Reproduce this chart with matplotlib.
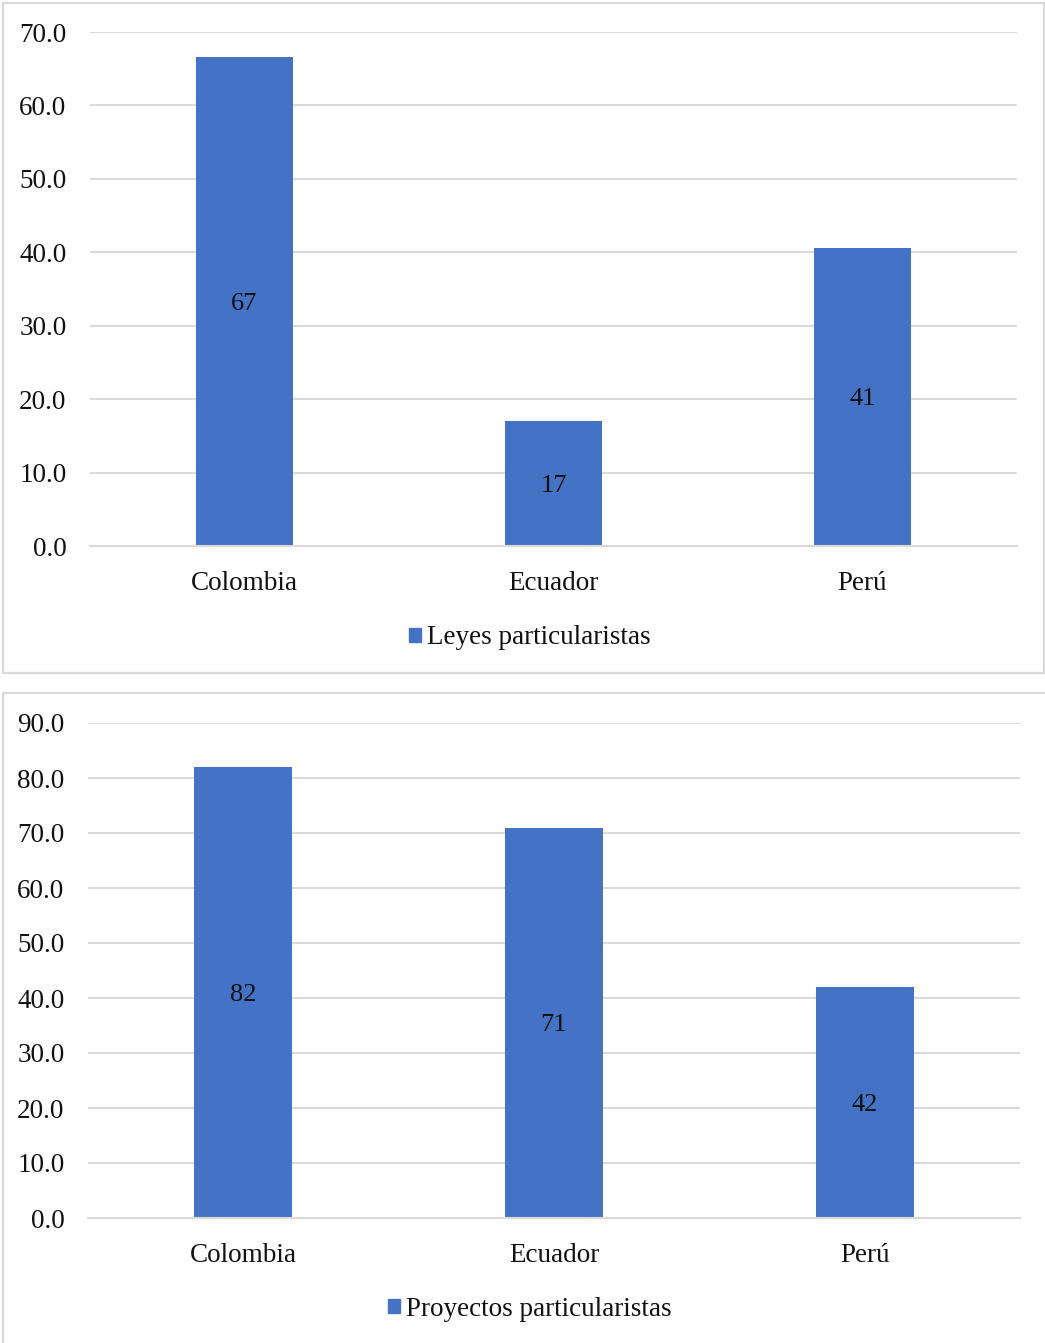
import matplotlib
matplotlib.use("Agg")
import matplotlib.pyplot as plt
from matplotlib.patches import Rectangle, Patch

plt.rcParams['font.family'] = ['Liberation Serif', 'DejaVu Serif']

countries = ["Colombia", "Ecuador", "Perú"]
leyes = [66.6, 17.0, 40.6]
proyectos = [82.0, 71.0, 42.0]
leyes_ticks = [0, 10, 20, 30, 40, 50, 60, 70]
proyectos_ticks = [0, 10, 20, 30, 40, 50, 60, 70, 80, 90]

BAR = "#4472C4"
GRID = "#D9D9D9"
TXT = "#111111"
W, H = 1045, 1343

fig = plt.figure(figsize=(W / 100, H / 100), dpi=100)

# panel frames
for (x0, y0, x1, y1) in [(3, 3, 1044, 673), (3, 693, 1047, 1346)]:
    fig.patches.append(Rectangle((x0 / W, 1 - y1 / H), (x1 - x0) / W, (y1 - y0) / H,
                                 transform=fig.transFigure, fill=False,
                                 edgecolor=GRID, linewidth=1.6))


def panel(rect, values, ticks, label, legend_y):
    ax = fig.add_axes(rect)
    x = range(len(countries))
    bars = ax.bar(x, values, width=0.315, color=BAR, zorder=3)
    for b, v in zip(bars, values):
        ax.text(b.get_x() + b.get_width() / 2, v / 2, f"{v:.0f}",
                ha="center", va="center_baseline", fontsize=19, color=TXT, zorder=4)
    ax.set_xlim(-0.5, 2.5)
    ax.set_ylim(0, ticks[-1])
    ax.set_yticks(ticks)
    ax.set_yticklabels([f"{t:.1f}" for t in ticks], fontsize=19.5, color=TXT)
    ax.set_xticks(list(x))
    ax.set_xticklabels(countries, fontsize=19.5, color=TXT)
    ax.tick_params(axis="y", length=0, pad=17)
    ax.tick_params(axis="x", length=0, pad=18)
    ax.yaxis.grid(True, color=GRID, linewidth=1.5, zorder=0)
    ax.set_axisbelow(True)
    for s in ["top", "right", "left"]:
        ax.spines[s].set_visible(False)
    ax.spines["bottom"].set_color(GRID)
    ax.spines["bottom"].set_linewidth(1.5)
    ax.spines["bottom"].set_zorder(5)
    fig.legend(handles=[Patch(color=BAR, label=label)], loc="center",
               bbox_to_anchor=(0.507, 1 - (legend_y + 3) / H), frameon=False,
               fontsize=19.5, handlelength=0.45, handleheight=0.45,
               handletextpad=0.25, labelcolor=TXT)
    return ax


panel([90 / W, 1 - 546 / H, (1017 - 90) / W, (546 - 32) / H],
      leyes, leyes_ticks, "Leyes particularistas", 635)
panel([88 / W, 1 - 1218 / H, (1020 - 88) / W, (1218 - 723) / H],
      proyectos, proyectos_ticks, "Proyectos particularistas", 1306)

fig.savefig("out.png", dpi=100)
